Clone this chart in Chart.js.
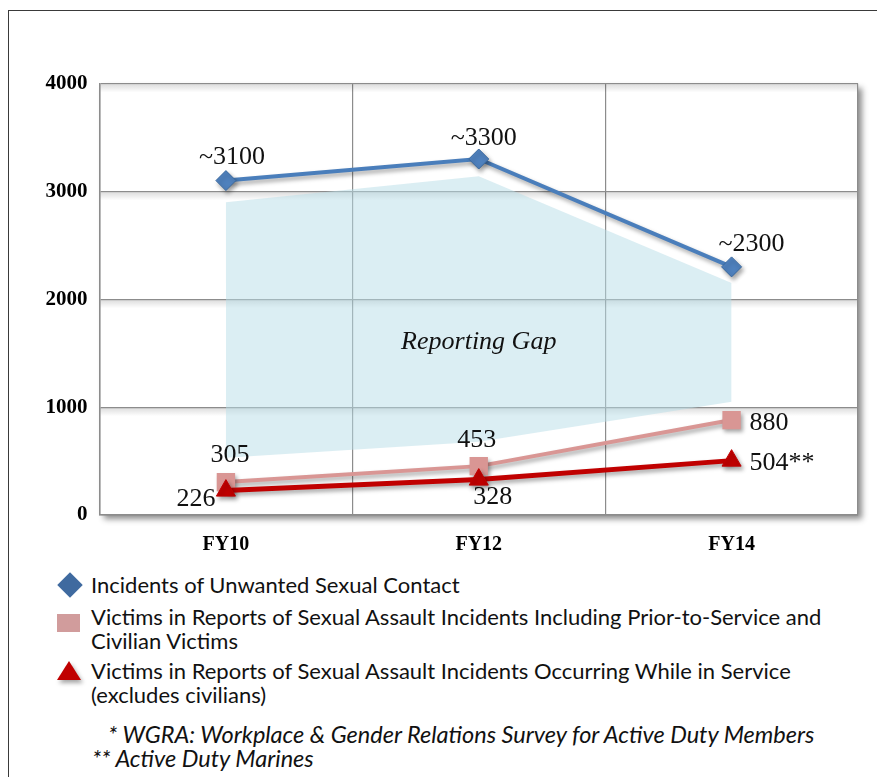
<!DOCTYPE html>
<html>
<head>
<meta charset="utf-8">
<script src="https://cdn.jsdelivr.net/npm/chart.js@4.4.1/dist/chart.umd.min.js"></script>
<style>
	body { margin: 0; background: #fff; width: 877px; height: 777px; overflow: hidden; position: relative; font-family: Lato, "Open Sans", sans-serif; }
	#frame { position: absolute; left: 8px; top: 10px; width: 900px; height: 800px; border: 1.5px solid #3a3a3a; }
	#chartBox { position: absolute; left: 0; top: 0; width: 877px; height: 560px; }
	#legend .row { position: absolute; left: 91px; font-size: 22px; line-height: 24px; color: #111; white-space: nowrap; }
	#legend .mk { position: absolute; }
	.diamond { width: 18px; height: 18px; background: #3f6a9f; transform: rotate(45deg); }
	.square { width: 23px; height: 18px; background: #d19c9c; }
	.triangle { width: 0; height: 0; border-left: 12.5px solid transparent; border-right: 12.5px solid transparent; border-bottom: 19px solid #c00000; filter: drop-shadow(2px 3px 2px rgba(0,0,0,0.35)); }
	.note { position: absolute; font-style: italic; font-size: 23.5px; line-height: 24px; color: #111; white-space: nowrap; }
</style>
</head>
<body>
<div id="frame"></div>
<div id="chartBox"><canvas id="gapChart"></canvas></div>
<div id="legend"></div>
<script>
// 차트 데이터
const categories = ['FY10', 'FY12', 'FY14'];
const yTicks = [0, 1000, 2000, 3000, 4000];
const seriesNames = [
	'Incidents of Unwanted Sexual Contact',
	'Victims in Reports of Sexual Assault Incidents Including Prior-to-Service and Civilian Victims',
	'Victims in Reports of Sexual Assault Incidents Occurring While in Service (excludes civilians)'
];
const unwantedContact = [3100, 3300, 2300];
const victimsInclCivilian = [305, 453, 880];
const victimsInService = [226, 328, 504];
const gapTop = [2900, 3140, 2150];
const gapBottom = [530, 680, 1050];
const contactText = ['~3100', '~3300', '~2300'];
const civilianText = ['305', '453', '880'];
const serviceText = ['226', '328', '504**'];
const gapLabel = 'Reporting Gap';
const gapLabelValue = 1600;
const footnotes = [
	'* WGRA: Workplace & Gender Relations Survey for Active Duty Members',
	'** Active Duty Marines'
];

// 라벨 위치 (점 기준 오프셋)
const contactPos = [{ dx: 6, dy: -23, align: 'center' }, { dx: 5, dy: -21, align: 'center' }, { dx: 20, dy: -23, align: 'center' }];
const civilianPos = [{ dx: 4, dy: -27, align: 'center' }, { dx: -2, dy: -26, align: 'center' }, { dx: 18, dy: 3, align: 'left' }];
const servicePos = [{ dx: -30, dy: 9, align: 'center' }, { dx: 14, dy: 18, align: 'center' }, { dx: 18, dy: 3, align: 'left' }];

// 그림자 그리기
const shadowPlugin = {
	id: 'shadowPlugin',
	beforeDraw(chart) {
		const { ctx, chartArea: a } = chart;
		ctx.save();
		ctx.shadowColor = 'rgba(0,0,0,0.45)';
		ctx.shadowBlur = 6;
		ctx.shadowOffsetX = 4;
		ctx.shadowOffsetY = 4;
		ctx.fillStyle = '#fff';
		ctx.fillRect(a.left, a.top, a.right - a.left, a.bottom - a.top);
		ctx.restore();
	},
	beforeDatasetsDraw(chart) {
		const { ctx, chartArea: a } = chart;
		const y = chart.scales.y;
		ctx.save();
		yTicks.forEach(v => {
			if (v === 0) return;
			const py = y.getPixelForValue(v);
			const g = ctx.createLinearGradient(0, py + 1, 0, py + 9);
			g.addColorStop(0, 'rgba(0,0,0,0.13)');
			g.addColorStop(1, 'rgba(0,0,0,0)');
			ctx.fillStyle = g;
			ctx.fillRect(a.left + 1, py + 1, a.right - a.left - 2, 8);
		});
		ctx.restore();
	},
	beforeDatasetDraw(chart, args) {
		if (chart.data.datasets[args.index].shadow) {
			const ctx = chart.ctx;
			ctx.save();
			ctx.shadowColor = 'rgba(0,0,0,0.35)';
			ctx.shadowBlur = 4;
			ctx.shadowOffsetX = 2;
			ctx.shadowOffsetY = 3;
		}
	},
	afterDatasetDraw(chart, args) {
		if (chart.data.datasets[args.index].shadow) {
			chart.ctx.restore();
		}
	}
};

// 값 라벨
const valueLabelPlugin = {
	id: 'valueLabelPlugin',
	afterDatasetsDraw(chart) {
		const ctx = chart.ctx;
		ctx.save();
		ctx.fillStyle = '#111';
		ctx.textBaseline = 'middle';
		ctx.font = '26px "Liberation Serif", "Times New Roman", serif';
		chart.data.datasets.forEach((ds, i) => {
			if (!ds.valueText) return;
			const meta = chart.getDatasetMeta(i);
			meta.data.forEach((pt, j) => {
				const p = ds.textPos[j];
				ctx.textAlign = p.align;
				ctx.fillText(ds.valueText[j], pt.x + p.dx, pt.y + p.dy);
			});
		});
		// Reporting Gap
		ctx.font = 'italic 26px "Liberation Serif", "Times New Roman", serif';
		ctx.textAlign = 'center';
		ctx.fillText(gapLabel, chart.scales.x.getPixelForValue(1), chart.scales.y.getPixelForValue(gapLabelValue));
		ctx.restore();
	}
};

const ctx = document.getElementById('gapChart').getContext('2d');
new Chart(ctx, {
	type: 'line',
	data: {
		labels: categories,
		datasets: [
			{
				label: seriesNames[0], data: unwantedContact, shadow: true,
				borderColor: '#4a7ebb', borderWidth: 4,
				pointStyle: 'rectRot', pointRadius: 10, pointBackgroundColor: '#4f81bd', pointBorderColor: '#3b6aa0', pointBorderWidth: 1,
				valueText: contactText, textPos: contactPos
			},
			{
				label: seriesNames[2], data: victimsInService, shadow: true,
				borderColor: '#c00000', borderWidth: 5,
				pointStyle: 'triangle', pointRadius: 11, pointBackgroundColor: '#c00000', pointBorderColor: '#c00000', pointBorderWidth: 1,
				valueText: serviceText, textPos: servicePos
			},
			{
				label: seriesNames[1], data: victimsInclCivilian, shadow: true,
				borderColor: '#d99694', borderWidth: 4,
				pointStyle: 'rect', pointRadius: 13, pointBackgroundColor: '#d99694', pointBorderColor: '#d99694', pointBorderWidth: 0,
				valueText: civilianText, textPos: civilianPos
			},
			{
				label: 'gapBottom', data: gapBottom, borderWidth: 0, pointRadius: 0, fill: false
			},
			{
				label: 'gapTop', data: gapTop, borderWidth: 0, pointRadius: 0,
				fill: '-1', backgroundColor: 'rgba(183,221,232,0.5)'
			}
		]
	},
	options: {
		responsive: true,
		maintainAspectRatio: false,
		animation: false,
		layout: { padding: { top: 83.5, right: 19, bottom: 0, left: 0 } },
		plugins: {
			legend: { display: false },
			tooltip: { enabled: false }
		},
		elements: { line: { tension: 0 } },
		scales: {
			x: {
				offset: true,
				grid: { offset: true, color: '#8c8c8c', lineWidth: 1.2, drawTicks: false },
				border: { color: '#8c8c8c', width: 1.5 },
				ticks: {
					padding: 18, color: '#000',
					font: { family: '"Liberation Serif", "Times New Roman", serif', size: 20, weight: 'bold' }
				},
				afterFit(scale) { scale.height = 45; }
			},
			y: {
				min: 0, max: 4000,
				afterBuildTicks(scale) { scale.ticks = yTicks.map(v => ({ value: v })); },
				grid: { color: '#8c8c8c', lineWidth: 1.2, drawTicks: false },
				border: { color: '#8c8c8c', width: 1.5 },
				ticks: {
					padding: 12, color: '#000',
					font: { family: '"Liberation Serif", "Times New Roman", serif', size: 21, weight: 'bold' },
					callback: (value) => String(value)
				},
				afterFit(scale) { scale.width = 99.5; }
			}
		}
	},
	plugins: [shadowPlugin, valueLabelPlugin]
});

// 범례 (HTML)
const legend = document.getElementById('legend');
const legendRows = [
	{ text: seriesNames[0], top: 573, mk: 'diamond', mx: 61, my: 576 },
	{ text: seriesNames[1].replace(' and ', ' and<br>'), top: 605, mk: 'square', mx: 57, my: 614 },
	{ text: seriesNames[2].replace(' Service ', ' Service<br>'), top: 659, mk: 'triangle', mx: 57, my: 661 }
];
legendRows.forEach(r => {
	const row = document.createElement('div');
	row.className = 'row';
	row.style.top = r.top + 'px';
	row.innerHTML = r.text;
	legend.appendChild(row);
	const mk = document.createElement('div');
	mk.className = 'mk ' + r.mk;
	mk.style.left = r.mx + 'px';
	mk.style.top = r.my + 'px';
	legend.appendChild(mk);
});
footnotes.forEach((t, i) => {
	const n = document.createElement('div');
	n.className = 'note';
	n.style.left = (i === 0 ? 108 : 92) + 'px';
	n.style.top = (722 + i * 24) + 'px';
	n.textContent = t;
	legend.appendChild(n);
});
</script>
</body>
</html>
